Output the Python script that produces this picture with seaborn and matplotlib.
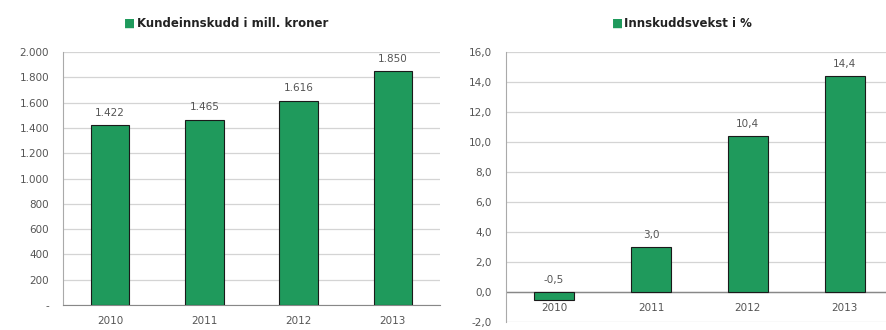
import numpy as np
import pandas as pd
import matplotlib
matplotlib.use('Agg')
import matplotlib.pyplot as plt
import seaborn as sns

years = ['2010', '2011', '2012', '2013']
innskudd = [1422, 1465, 1616, 1850]
vekst = [-0.5, 3.0, 10.4, 14.4]
innskudd_labels = ['1.422', '1.465', '1.616', '1.850']
vekst_labels = ['-0,5', '3,0', '10,4', '14,4']
left_ticks = [0, 200, 400, 600, 800, 1000, 1200, 1400, 1600, 1800, 2000]
left_ticklabels = ['-', '200', '400', '600', '800', '1.000', '1.200', '1.400', '1.600', '1.800', '2.000']
right_ticks = [-2, 0, 2, 4, 6, 8, 10, 12, 14, 16]
right_ticklabels = ['-2,0', '0,0', '2,0', '4,0', '6,0', '8,0', '10,0', '12,0', '14,0', '16,0']
titles = ['Kundeinnskudd i mill. kroner', 'Innskuddsvekst i %']

green = '#1f9a5c'
grid_c = '#d4d4d4'
txt_c = '#555555'

sns.set_style('white')
plt.rcParams['font.family'] = ['DejaVu Sans']

df = pd.DataFrame({'year': years, 'innskudd': innskudd, 'vekst': vekst})

fig = plt.figure(figsize=(8.87, 3.3), dpi=100)
ax1 = fig.add_axes([0.071, 0.076, 0.425, 0.766])
ax2 = fig.add_axes([0.570, 0.024, 0.437, 0.818])

# left chart
sns.barplot(data=df, x='year', y='innskudd', ax=ax1, color=green, saturation=1,
            width=0.41, edgecolor='#1a1a1a', linewidth=0.8, zorder=3)
ax1.set_ylim(0, 2000)
ax1.set_xlim(-0.5, 3.5)
ax1.set_yticks(left_ticks)
ax1.set_yticklabels(left_ticklabels)
for i, v in enumerate(innskudd):
    ax1.text(i, v + 60, innskudd_labels[i], ha='center', va='bottom', fontsize=7.5, color=txt_c)

# right chart
sns.barplot(data=df, x='year', y='vekst', ax=ax2, color=green, saturation=1,
            width=0.41, edgecolor='#1a1a1a', linewidth=0.8, zorder=3)
ax2.set_ylim(-2, 16)
ax2.set_xlim(-0.5, 3.5)
ax2.set_yticks(right_ticks)
ax2.set_yticklabels(right_ticklabels)
for i, v in enumerate(vekst):
    ax2.text(i, max(v, 0) + 0.45, vekst_labels[i], ha='center', va='bottom', fontsize=7.5, color=txt_c)
ax2.axhline(0, color='#888888', linewidth=1, zorder=2)

for ax in (ax1, ax2):
    ax.set_xlabel('')
    ax.set_ylabel('')
    ax.grid(axis='y', color=grid_c, linewidth=0.9, zorder=0)
    ax.set_axisbelow(True)
    for s in ['top', 'right']:
        ax.spines[s].set_visible(False)
    ax.spines['left'].set_color('#aaaaaa')
    ax.tick_params(axis='y', labelsize=7.5, colors=txt_c, length=0, pad=10)
    ax.tick_params(axis='x', labelsize=7.5, colors=txt_c, length=0, pad=8)

ax1.spines['bottom'].set_color('#888888')
ax2.spines['bottom'].set_visible(False)
# x labels of right chart sit under the zero line
ax2.set_xticklabels([])
for i, y in enumerate(years):
    ax2.text(i, -0.75, y, ha='center', va='top', fontsize=7.5, color=txt_c)

# titles with green legend square in front
fig.canvas.draw()
rend = fig.canvas.get_renderer()
for xc, title in zip([0.262, 0.776], titles):
    t = fig.text(xc, 0.93, title, ha='center', va='center',
                 fontsize=8.5, fontweight='bold', color='#222222')
    bb = t.get_window_extent(renderer=rend)
    x0 = bb.x0 / fig.bbox.width
    fig.text(x0 - 0.002, 0.93, '■', ha='right', va='center', fontsize=8.5, color=green)

fig.savefig('out.png', dpi=100)
